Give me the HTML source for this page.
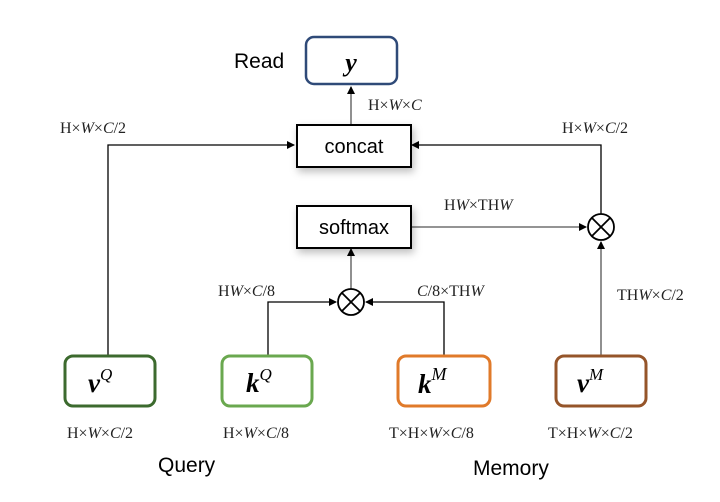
<!DOCTYPE html>
<html><head><meta charset="utf-8"><style>
body{margin:0;background:#fff;}
svg text{font-family:"Liberation Serif",serif;}
.s{font-family:"Liberation Sans",sans-serif;}
</style></head><body>
<svg width="720" height="497" viewBox="0 0 720 497" xmlns="http://www.w3.org/2000/svg">
<defs>
<marker id="a" markerWidth="8" markerHeight="8" refX="7" refY="4" orient="auto" markerUnits="userSpaceOnUse">
<path d="M0,0 L8,4 L0,8 Z" fill="#000"/></marker>
<filter id="sh" x="-20%" y="-20%" width="150%" height="160%"><feDropShadow dx="2" dy="4" stdDeviation="4" flood-color="#000" flood-opacity="0.25"/></filter>
</defs>
<g stroke="#000" stroke-width="1.3" fill="none">
<polyline points="108,355 108,145 294,145" marker-end="url(#a)"/>
<polyline points="601,214 601,145 412,145" marker-end="url(#a)"/>
<line x1="351" y1="124" x2="351" y2="87" marker-end="url(#a)" stroke="#555"/>
<line x1="410" y1="227" x2="586" y2="227" marker-end="url(#a)" stroke="#555"/>
<line x1="351" y1="289" x2="351" y2="249" marker-end="url(#a)" stroke="#555"/>
<polyline points="268,355 268,302 336,302" marker-end="url(#a)"/>
<polyline points="444,355 444,302 366,302" marker-end="url(#a)"/>
<line x1="601" y1="355" x2="601" y2="242" marker-end="url(#a)" stroke="#555"/>
</g>
<rect x="306" y="37" width="91" height="47" rx="8" fill="#fff" stroke="#2f4a78" stroke-width="2.5"/>
<text x="351" y="71" font-size="26" font-weight="bold" font-style="italic" text-anchor="middle">y</text>
<text x="234" y="68" font-size="21" class="s">Read</text>
<rect x="297" y="125" width="114" height="42" fill="#fff" stroke="#000" stroke-width="2" filter="url(#sh)"/>
<text x="354" y="153" font-size="20" text-anchor="middle" class="s">concat</text>
<rect x="297" y="206" width="114" height="42" fill="#fff" stroke="#000" stroke-width="2" filter="url(#sh)"/>
<text x="354" y="234" font-size="20" text-anchor="middle" class="s">softmax</text>
<g stroke="#000" stroke-width="1.8" fill="#fff">
<circle cx="601" cy="227" r="13"/><line x1="592" y1="218" x2="610" y2="236"/><line x1="610" y1="218" x2="592" y2="236"/>
<circle cx="351" cy="302" r="13"/><line x1="342" y1="293" x2="360" y2="311"/><line x1="360" y1="293" x2="342" y2="311"/>
</g>
<rect x="65" y="356" width="90" height="50" rx="8" fill="#fff" stroke="#3c6a2e" stroke-width="3"/>
<rect x="222" y="356" width="90" height="50" rx="8" fill="#fff" stroke="#6aa84f" stroke-width="3"/>
<rect x="398" y="356" width="92" height="50" rx="8" fill="#fff" stroke="#e07a2a" stroke-width="3"/>
<rect x="556" y="356" width="90" height="50" rx="8" fill="#fff" stroke="#95552a" stroke-width="3"/>
<g font-size="27" font-weight="bold" font-style="italic">
<text x="88" y="392">v<tspan font-size="17" font-weight="normal" dy="-12">Q</tspan></text>
<text x="246" y="392">k<tspan font-size="17" font-weight="normal" dy="-12">Q</tspan></text>
<text x="418" y="393">k<tspan font-size="18" font-weight="normal" dy="-13">M</tspan></text>
<text x="577" y="392">v<tspan font-size="17" font-weight="normal" dy="-12">M</tspan></text>
</g>
<g font-size="16" fill="#222">
<text x="60" y="133">H×<tspan font-style="italic">W</tspan>×<tspan font-style="italic">C</tspan>/2</text>
<text x="368" y="110">H×<tspan font-style="italic">W</tspan>×<tspan font-style="italic">C</tspan></text>
<text x="562" y="133">H×<tspan font-style="italic">W</tspan>×<tspan font-style="italic">C</tspan>/2</text>
<text x="444" y="210">H<tspan font-style="italic">W</tspan>×TH<tspan font-style="italic">W</tspan></text>
<text x="218" y="296">H<tspan font-style="italic">W</tspan>×<tspan font-style="italic">C</tspan>/8</text>
<text x="417" y="296"><tspan font-style="italic">C</tspan>/8×TH<tspan font-style="italic">W</tspan></text>
<text x="617" y="300">TH<tspan font-style="italic">W</tspan>×<tspan font-style="italic">C</tspan>/2</text>
<text x="67" y="438">H×<tspan font-style="italic">W</tspan>×<tspan font-style="italic">C</tspan>/2</text>
<text x="223" y="438">H×<tspan font-style="italic">W</tspan>×<tspan font-style="italic">C</tspan>/8</text>
<text x="389" y="438">T×H×<tspan font-style="italic">W</tspan>×<tspan font-style="italic">C</tspan>/8</text>
<text x="548" y="438">T×H×<tspan font-style="italic">W</tspan>×<tspan font-style="italic">C</tspan>/2</text>
</g>
<text x="158" y="472" font-size="21" class="s">Query</text>
<text x="473" y="475" font-size="21" class="s">Memory</text>
</svg>
</body></html>
